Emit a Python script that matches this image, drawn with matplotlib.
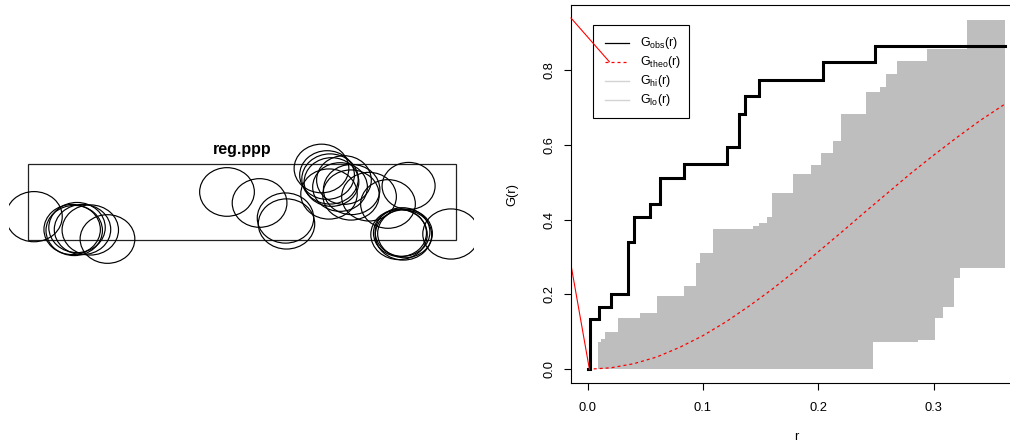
import numpy as np
import matplotlib
matplotlib.use("Agg")
import matplotlib.pyplot as plt
from matplotlib.patches import Circle, Rectangle
from matplotlib.lines import Line2D
from matplotlib.transforms import Affine2D

plt.rcParams["font.family"] = ["Liberation Sans", "DejaVu Sans"]
plt.rcParams["mathtext.fontset"] = "custom"
plt.rcParams["mathtext.rm"] = "Liberation Sans"
plt.rcParams["mathtext.it"] = "Liberation Sans:italic"

# ---- point pattern: window [0, 5] x [0, 1], circle centres and radii ----
win_w, win_h = 5.0, 1.0
pts_x = [0.067, 0.513, 0.537, 0.570, 0.634, 0.725, 0.926,
         2.324, 2.705, 3.008, 3.020,
         3.429, 3.494, 3.529, 3.546, 3.517, 3.782, 3.774, 3.646, 3.692,
         3.985, 4.207, 4.448,
         4.347, 4.377, 4.388, 4.406, 4.336, 4.944]
pts_y = [0.307, 0.138, 0.125, 0.164, 0.138, 0.132, 0.013,
         0.632, 0.487, 0.289, 0.211,
         0.941, 0.855, 0.803, 0.763, 0.605, 0.664, 0.592, 0.697, 0.789,
         0.570, 0.474, 0.711,
         0.092, 0.105, 0.066, 0.086, 0.072, 0.079]
marks = [0.33, 0.33, 0.33, 0.33, 0.33, 0.33, 0.32,
         0.32, 0.32, 0.33, 0.33,
         0.32, 0.32, 0.33, 0.32, 0.33, 0.33, 0.33, 0.32, 0.32,
         0.32, 0.32, 0.31,
         0.31, 0.32, 0.33, 0.32, 0.33, 0.33]

# ---- G function estimates ----
r_max = 0.362
r_obs = [0.0, 0.0020, 0.0097, 0.0202, 0.0347, 0.0400, 0.0540, 0.0627,
         0.0838, 0.1206, 0.1312, 0.1364, 0.1487, 0.2043, 0.2492]
g_obs = [0.0, 0.134, 0.167, 0.200, 0.340, 0.408, 0.442, 0.512,
         0.548, 0.595, 0.683, 0.729, 0.773, 0.820, 0.865]

r_theo = [0.0, 0.02, 0.04, 0.06, 0.08, 0.10, 0.12, 0.14, 0.16, 0.18,
          0.20, 0.22, 0.24, 0.26, 0.28, 0.30, 0.32, 0.34, 0.362]
g_theo = [0.0, 0.004, 0.015, 0.033, 0.059, 0.090, 0.127, 0.169, 0.214, 0.263,
          0.314, 0.366, 0.419, 0.471, 0.523, 0.572, 0.619, 0.664, 0.709]

r_hi = [0.0087, 0.0113, 0.0150, 0.0263, 0.0454, 0.0597, 0.0838, 0.0939,
        0.0974, 0.1090, 0.1436, 0.1488, 0.1552, 0.1600, 0.1783, 0.1937,
        0.2021, 0.2130, 0.2197, 0.2414, 0.2535, 0.2587, 0.2685, 0.2940,
        0.3287]
g_hi = [0.074, 0.080, 0.099, 0.138, 0.151, 0.195, 0.222, 0.283,
        0.312, 0.374, 0.383, 0.392, 0.408, 0.470, 0.521, 0.546,
        0.579, 0.609, 0.682, 0.740, 0.755, 0.790, 0.823, 0.856,
        0.934]

r_lo = [0.0, 0.2477, 0.2868, 0.3012, 0.3084, 0.3177, 0.3229]
g_lo = [0.0, 0.074, 0.078, 0.138, 0.167, 0.243, 0.270]

x_ticks = [0.0, 0.1, 0.2, 0.3]
y_ticks = [0.0, 0.2, 0.4, 0.6, 0.8]

W, H = 1010, 442
fig = plt.figure(figsize=(W / 100, H / 100), dpi=100)
px = Affine2D().scale(1 / W, -1 / H).translate(0, 1) + fig.transFigure

# ---------------- left panel: point pattern ----------------
axl = fig.add_axes([9 / W, 1 - 304 / H, 465 / W, 204 / H])
axl.set_xlim(-0.2257, 5.2129)
axl.set_ylim(-0.8421, 1.8421)
axl.set_axis_off()
axl.add_patch(Rectangle((0, 0), win_w, win_h, fill=False, ec="#222222", lw=0.9))
for x, y, m in zip(pts_x, pts_y, marks):
    axl.add_patch(Circle((x, y), m, fill=False, ec="black", lw=0.85))
axl.text(win_w / 2, 1.13, "reg.ppp", ha="center", va="baseline",
         fontsize=11.5, fontweight="bold")

# ---------------- right panel: envelope of G ----------------
x0, x1 = 571, 1021.8
y0, y1 = 5, 383.3
ax = fig.add_axes([x0 / W, 1 - y1 / H, (x1 - x0) / W, (y1 - y0) / H])
ax.set_xlim(-0.01448, 0.3765)
ax.set_ylim(-0.0374, 0.9734)


def step_at(r, jumps, levels):
    idx = np.searchsorted(jumps, r, side="right") - 1
    lv = np.asarray(levels)
    return np.where(idx >= 0, lv[np.clip(idx, 0, None)], 0.0)


grid = np.unique(np.concatenate([r_hi, r_lo[1:], [r_max]]))
ax.fill_between(grid, step_at(grid, r_lo, g_lo), step_at(grid, r_hi, g_hi),
                step="post", color="#BEBEBE", lw=0)
ax.plot(r_theo, g_theo, color="red", lw=0.9, ls=(0, (2.4, 2.4)))
ax.step(r_obs + [r_max], g_obs + [g_obs[-1]], where="post", color="black",
        lw=2.2, solid_joinstyle="miter")

# stray red segment reaching in from the left margin
ax.plot([-0.01448, 0.0015], [0.279, 0.0], color="red", lw=0.8)

ax.set_xticks(x_ticks)
ax.set_xticklabels(["0.0", "0.1", "0.2", "0.3"])
ax.set_yticks(y_ticks)
ax.set_yticklabels(["0.0", "0.2", "0.4", "0.6", "0.8"], rotation=90, va="center")
ax.tick_params(axis="both", direction="out", length=5.0, width=0.8,
               labelsize=9.3)
ax.tick_params(axis="x", pad=8.2)
ax.tick_params(axis="y", pad=6.0)
for s in ["left", "bottom", "top"]:
    ax.spines[s].set_linewidth(0.8)
ax.spines["right"].set_visible(False)

ax.set_xlabel("r", fontsize=9.3)
ax.xaxis.label.set_va("center")
ax.xaxis.set_label_coords(0.5, (y1 - 436.7) / (y1 - y0))
ax.set_ylabel("G(r)", fontsize=9.3)
ax.yaxis.label.set_va("center")
ax.yaxis.set_label_coords((512 - x0) / (x1 - x0), 0.5)

# legend box
fig.add_artist(Rectangle((593.3, 25), 96, 92.7, transform=px, fill=True,
                         fc="white", ec="black", lw=0.8, zorder=5))
leg_rows = [43.3, 61.7, 81.0, 100.0]
leg_labels = [r"$\mathrm{G_{obs}(r)}$", r"$\mathrm{G_{theo}(r)}$",
              r"$\mathrm{G_{hi}(r)}$", r"$\mathrm{G_{lo}(r)}$"]
leg_styles = [dict(color="black", lw=0.9, ls="-"),
              dict(color="red", lw=0.9, ls=(0, (2.4, 2.4))),
              dict(color="#D3D3D3", lw=1.0, ls="-"),
              dict(color="#D3D3D3", lw=1.0, ls="-")]
for yy, lab, st in zip(leg_rows, leg_labels, leg_styles):
    fig.add_artist(Line2D([605, 629.3], [yy, yy], transform=px, zorder=6, **st))
    fig.text(640, yy, lab, transform=px, ha="left", va="center", fontsize=9,
             zorder=6)

# stray red segment running into the legend's dashed key
fig.add_artist(Line2D([571, 609.3], [18, 61.7], transform=px, color="red",
                      lw=0.8, zorder=7))

fig.savefig("out.png", dpi=100)
